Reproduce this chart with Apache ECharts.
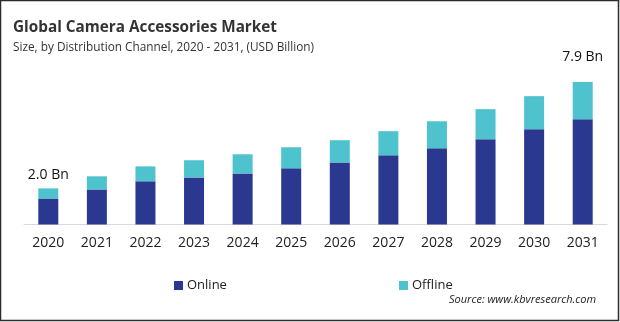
<!DOCTYPE html>
<html>
<head>
<meta charset="utf-8">
<style>
  html, body { margin: 0; padding: 0; background: #fff; }
  #chart { width: 620px; height: 322px; }
</style>
<script src="https://cdn.jsdelivr.net/npm/echarts@6/dist/echarts.min.js"></script>
</head>
<body>
<div id="chart"></div>
<script>
// Market size by distribution channel, USD billion
const years = ['2020', '2021', '2022', '2023', '2024', '2025', '2026', '2027', '2028', '2029', '2030', '2031'];
const online = [1.44, 1.94, 2.39, 2.61, 2.83, 3.11, 3.44, 3.83, 4.22, 4.72, 5.28, 5.83];
const offline = [0.56, 0.73, 0.83, 0.95, 1.06, 1.17, 1.23, 1.34, 1.50, 1.67, 1.83, 2.07];
// Totals annotated above the first and last bars
const endLabels = { 0: '2.0 Bn', 11: '7.9 Bn' };

const FONT = '"Open Sans", "Noto Sans", sans-serif';
const chart = echarts.init(document.getElementById('chart'), null, { renderer: 'canvas' });

const offlineData = offline.map((v, i) => {
  if (endLabels[i] === undefined) return v;
  return {
    value: v,
    label: {
      show: true,
      position: 'top',
      distance: i === 0 ? 6 : 18,
      formatter: endLabels[i],
      color: '#111',
      fontSize: 14,
      fontFamily: FONT
    }
  };
});

chart.setOption({
  animation: false,
  backgroundColor: '#fff',
  title: [
    {
      text: 'Global Camera Accessories Market',
      left: 8, top: 15,
      textStyle: { fontFamily: FONT, fontWeight: 'bold', fontSize: 15.3, color: '#333' }
    },
    {
      text: 'Size, by Distribution Channel, 2020 - 2031, (USD Billion)',
      left: 8, top: 37,
      textStyle: { fontFamily: FONT, fontWeight: 'normal', fontSize: 11.8, color: '#333' }
    },
    {
      text: 'Source: www.kbvresearch.com',
      left: 444, top: 289,
      textStyle: { fontFamily: FONT, fontWeight: 'normal', fontStyle: 'italic', fontSize: 11, color: '#222' }
    }
  ],
  legend: [
    {
      data: ['Online'], left: 169, top: 274,
      icon: 'rect', itemWidth: 9, itemHeight: 9, itemGap: 4,
      textStyle: { fontFamily: FONT, fontSize: 13, color: '#222', padding: [0, 0, 0, -1] }
    },
    {
      data: ['Offline'], left: 394, top: 274,
      icon: 'rect', itemWidth: 9, itemHeight: 9, itemGap: 4,
      textStyle: { fontFamily: FONT, fontSize: 13, color: '#222', padding: [0, 0, 0, -1] }
    }
  ],
  grid: { left: 24, right: 13, top: 44, bottom: 97.5, containLabel: false },
  xAxis: {
    type: 'category',
    data: years,
    axisLine: { lineStyle: { color: '#d9d9d9', width: 1 } },
    axisTick: { show: false },
    axisLabel: { fontFamily: FONT, fontSize: 14, color: '#222', margin: 12 }
  },
  yAxis: {
    type: 'value', min: 0, max: 10,
    show: false,
    splitLine: { show: false }
  },
  series: [
    {
      name: 'Online', type: 'bar', stack: 'total', barWidth: 20,
      itemStyle: { color: '#2a388f' },
      data: online
    },
    {
      name: 'Offline', type: 'bar', stack: 'total', barWidth: 20,
      itemStyle: { color: '#4ec3cd' },
      data: offlineData
    }
  ],
  graphic: [
    {
      type: 'rect',
      shape: { x: 0.5, y: 0.5, width: 618, height: 320 },
      style: { fill: 'none', stroke: '#2b2b2b', lineWidth: 1.5 },
      silent: true
    }
  ]
});
</script>
</body>
</html>
